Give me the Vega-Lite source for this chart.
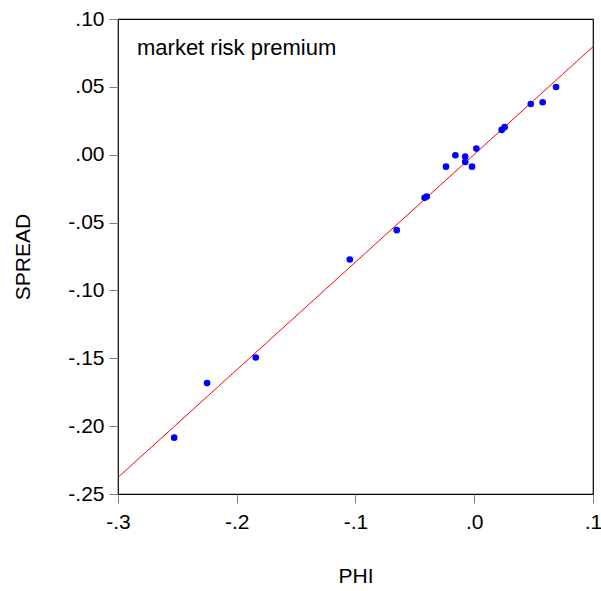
{
  "$schema": "https://vega.github.io/schema/vega-lite/v6.json",
  "width": 475,
  "height": 475,
  "autosize": "none",
  "padding": {"left": 118, "top": 19, "right": 8, "bottom": 97},
  "background": "white",
  "config": {
    "view": {"stroke": "black", "strokeWidth": 1.2},
    "font": "Liberation Sans",
    "axis": {
      "grid": false,
      "domain": false,
      "labelFlush": false,
      "labelOverlap": false,
      "tickColor": "#808080",
      "tickSize": 9,
      "labelFont": "Liberation Sans",
      "labelFontSize": 21,
      "labelColor": "black",
      "titleFont": "Liberation Sans",
      "titleFontSize": 21,
      "titleFontWeight": "normal",
      "titleColor": "black"
    }
  },
  "datasets": {
    "pts": [
      {"PHI": -0.2527, "SPREAD": -0.2085},
      {"PHI": -0.225, "SPREAD": -0.1683},
      {"PHI": -0.184, "SPREAD": -0.1494},
      {"PHI": -0.1048, "SPREAD": -0.0772},
      {"PHI": -0.0653, "SPREAD": -0.0556},
      {"PHI": -0.0418, "SPREAD": -0.0318},
      {"PHI": -0.0400, "SPREAD": -0.0308},
      {"PHI": -0.0238, "SPREAD": -0.0088},
      {"PHI": -0.0159, "SPREAD": -0.0004},
      {"PHI": -0.0076, "SPREAD": -0.0014},
      {"PHI": -0.0076, "SPREAD": -0.0053},
      {"PHI": -0.0019, "SPREAD": -0.0088},
      {"PHI": 0.0018, "SPREAD": 0.0045},
      {"PHI": 0.0231, "SPREAD": 0.0183},
      {"PHI": 0.0256, "SPREAD": 0.0203},
      {"PHI": 0.0476, "SPREAD": 0.0374},
      {"PHI": 0.0576, "SPREAD": 0.0387},
      {"PHI": 0.0689, "SPREAD": 0.0499}
    ],
    "fit": [
      {"PHI": -0.3, "SPREAD": -0.2378},
      {"PHI": 0.1, "SPREAD": 0.0796}
    ],
    "note": [
      {"PHI": -0.284, "SPREAD": 0.0735, "label": "market risk premium"}
    ]
  },
  "layer": [
    {
      "data": {"name": "fit"},
      "mark": {"type": "line", "color": "red", "strokeWidth": 1, "clip": true},
      "encoding": {
        "x": {"field": "PHI", "type": "quantitative"},
        "y": {"field": "SPREAD", "type": "quantitative"}
      }
    },
    {
      "data": {"name": "pts"},
      "mark": {"type": "circle", "color": "#0000ff", "opacity": 1, "size": 44},
      "encoding": {
        "x": {
          "field": "PHI",
          "type": "quantitative",
          "scale": {"domain": [-0.3, 0.1], "nice": false, "zero": false},
          "axis": {
            "title": "PHI",
            "values": [-0.3, -0.2, -0.1, 0, 0.1],
            "labelExpr": "replace(replace(format(datum.value, '.1f'), '\u2212', '-'), '0.', '.')",
            "labelPadding": 8,
            "titlePadding": 33
          }
        },
        "y": {
          "field": "SPREAD",
          "type": "quantitative",
          "scale": {"domain": [-0.25, 0.1], "nice": false, "zero": false},
          "axis": {
            "title": "SPREAD",
            "values": [-0.25, -0.2, -0.15, -0.1, -0.05, 0, 0.05, 0.1],
            "labelExpr": "replace(replace(format(datum.value, '.2f'), '\u2212', '-'), '0.', '.')",
            "labelPadding": 5,
            "titlePadding": 34
          }
        }
      }
    },
    {
      "data": {"name": "note"},
      "mark": {"type": "text", "align": "left", "baseline": "alphabetic", "fontSize": 22, "font": "Liberation Sans", "color": "black"},
      "encoding": {
        "x": {"field": "PHI", "type": "quantitative"},
        "y": {"field": "SPREAD", "type": "quantitative"},
        "text": {"field": "label"}
      }
    }
  ]
}
